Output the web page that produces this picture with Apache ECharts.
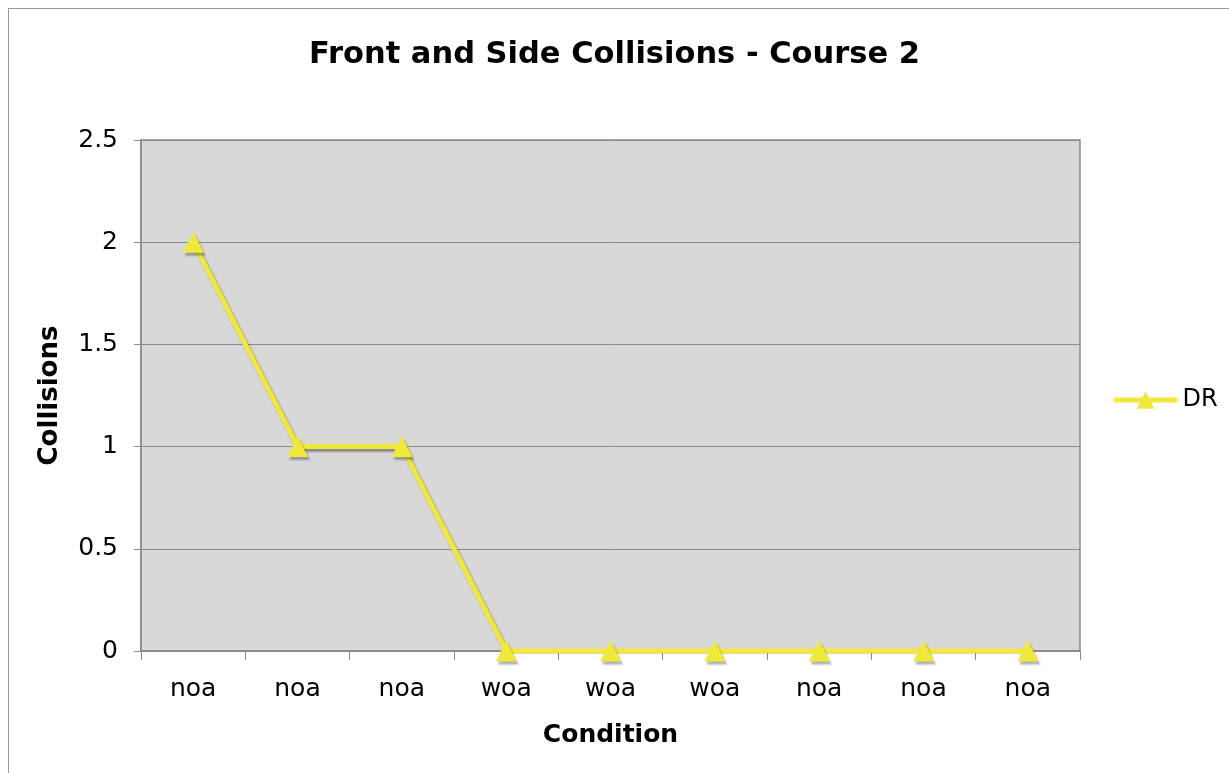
<!DOCTYPE html>
<html>
<head>
<meta charset="utf-8">
<script src="https://cdn.jsdelivr.net/npm/echarts@6/dist/echarts.min.js"></script>
<style>
html,body{margin:0;padding:0;background:#fff;}
#frame{position:absolute;left:8px;top:8px;width:1240px;height:790px;border:1px solid #9a9a9a;}
#chart{position:absolute;left:0;top:0;width:1229px;height:773px;}
</style>
</head>
<body>
<div id="frame"></div>
<div id="chart"></div>
<script>
const categories = ['noa','noa','noa','woa','woa','woa','noa','noa','noa'];
const drValues = [2, 1, 1, 0, 0, 0, 0, 0, 0];
const seriesName = 'DR';
const titleText = 'Front and Side Collisions - Course 2';
const yAxisName = 'Collisions';
const xAxisName = 'Condition';

const chart = echarts.init(document.getElementById('chart'));
const yellow = '#f0e93a';
chart.setOption({
  animation: false,
  backgroundColor: 'transparent',
  title: {
    text: titleText, left: 'center', top: 35,
    textStyle: {fontFamily: 'DejaVu Sans', fontWeight: 'bold', fontSize: 30.5, color: '#000'}
  },
  legend: {
    data: [seriesName], orient: 'vertical', left: 1106, top: 383,
    itemWidth: 64, itemHeight: 22, itemGap: 6,
    textStyle: {fontFamily: 'DejaVu Sans', fontSize: 24, color: '#000'},
    itemStyle: {shadowBlur: 0, shadowOffsetX: 0, shadowOffsetY: 0},
    lineStyle: {width: 5, shadowBlur: 0, shadowOffsetX: 0, shadowOffsetY: 0}
  },
  grid: {
    left: 141, right: 149, top: 140, bottom: 122,
    show: true, backgroundColor: '#d8d8d8', borderColor: '#8a8a8a', borderWidth: 1.5
  },
  xAxis: {
    type: 'category', data: categories, boundaryGap: true,
    name: xAxisName, nameLocation: 'middle', nameGap: 72,
    nameTextStyle: {fontFamily: 'DejaVu Sans', fontWeight: 'bold', fontSize: 25, color: '#000'},
    axisLine: {lineStyle: {color: '#8a8a8a', width: 1.5}},
    axisTick: {show: true, length: 9, inside: false, alignWithLabel: false, lineStyle: {color: '#8a8a8a'}},
    axisLabel: {fontFamily: 'DejaVu Sans', fontSize: 25, color: '#000', margin: 26}
  },
  yAxis: {
    type: 'value', min: 0, max: 2.5, interval: 0.5,
    name: yAxisName, nameLocation: 'middle', nameGap: 78, nameRotate: 90,
    nameTextStyle: {fontFamily: 'DejaVu Sans', fontWeight: 'bold', fontSize: 26, color: '#000'},
    axisLine: {show: true, lineStyle: {color: '#8a8a8a', width: 1.5}},
    axisTick: {show: true, length: 7, lineStyle: {color: '#8a8a8a'}},
    splitLine: {show: true, lineStyle: {color: '#8a8a8a', width: 1}},
    axisLabel: {fontFamily: 'DejaVu Sans', fontSize: 25, color: '#000', margin: 23}
  },
  series: [{
    name: seriesName, type: 'line', data: drValues,
    symbol: 'triangle', symbolSize: 21,
    lineStyle: {color: yellow, width: 5, shadowColor: 'rgba(0,0,0,0.35)', shadowBlur: 2, shadowOffsetX: 2, shadowOffsetY: 3},
    itemStyle: {color: yellow, shadowColor: 'rgba(0,0,0,0.3)', shadowBlur: 2, shadowOffsetX: 2, shadowOffsetY: 3},
    z: 5
  }]
});
</script>
</body>
</html>
